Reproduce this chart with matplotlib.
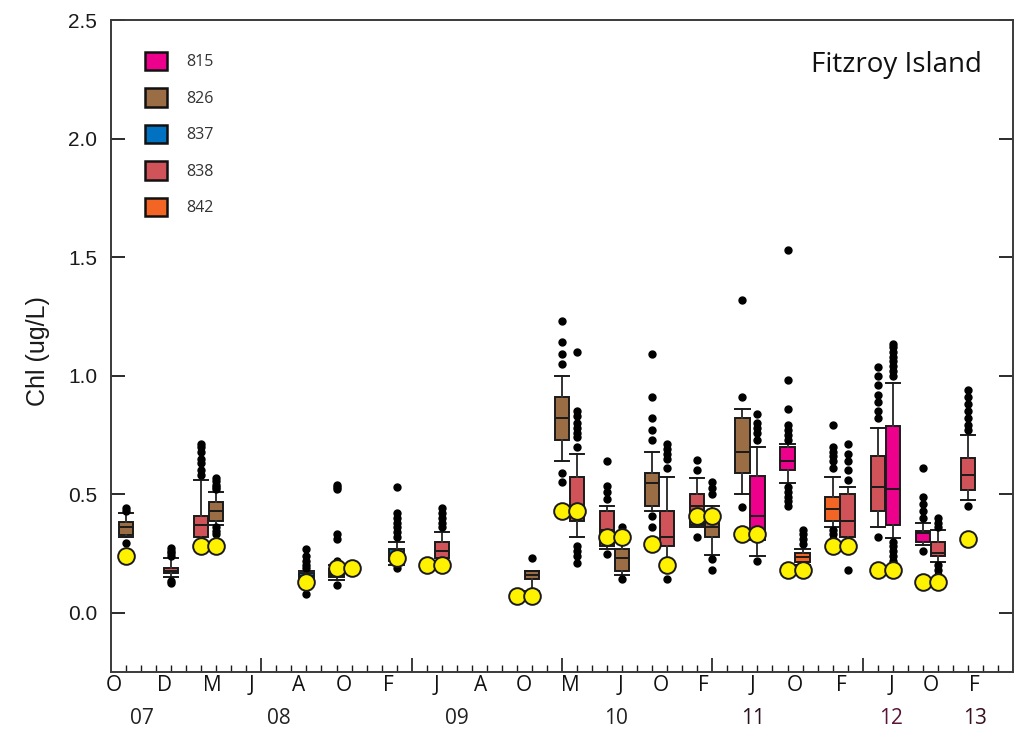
import matplotlib
matplotlib.use("Agg")
import matplotlib.pyplot as plt
from matplotlib.patches import Patch

# ---- data -----------------------------------------------------------------
station_colors = {
    "815": "#EC008C",
    "826": "#9A6D45",
    "837": "#0072C1",
    "838": "#D0535A",
    "842": "#F26524",
}
legend_stations = ["815", "826", "837", "838", "842"]

box_pos = [1, 4, 6, 7, 13, 15, 19, 22, 28, 30, 31, 33, 34, 36, 37, 39, 40,
           42, 43, 45, 46, 48, 49, 51, 52, 54, 55, 57]
box_station = ["826", "838", "838", "826", "837", "837", "837", "838", "826",
               "826", "838", "838", "826", "826", "838", "838", "826", "826",
               "815", "815", "842", "842", "838", "838", "815", "815", "838",
               "838"]
whis_lo = [0.318, 0.150, 0.280, 0.371, 0.120, 0.140, 0.200, 0.210, 0.090,
           0.640, 0.318, 0.270, 0.160, 0.430, 0.200, 0.360, 0.245, 0.500,
           0.238, 0.547, 0.200, 0.360, 0.270, 0.360, 0.315, 0.285, 0.212,
           0.477]
q1 = [0.329, 0.168, 0.318, 0.388, 0.142, 0.152, 0.220, 0.230, 0.142, 0.729,
      0.388, 0.283, 0.177, 0.450, 0.280, 0.370, 0.318, 0.590, 0.307, 0.600,
      0.212, 0.388, 0.318, 0.430, 0.371, 0.300, 0.238, 0.519]
median = [0.360, 0.178, 0.370, 0.430, 0.155, 0.160, 0.245, 0.260, 0.160,
          0.820, 0.450, 0.350, 0.230, 0.546, 0.320, 0.450, 0.360, 0.680,
          0.410, 0.640, 0.233, 0.437, 0.388, 0.530, 0.520, 0.335, 0.254,
          0.582]
q3 = [0.381, 0.187, 0.409, 0.468, 0.166, 0.185, 0.270, 0.300, 0.177, 0.908,
      0.571, 0.430, 0.269, 0.588, 0.427, 0.500, 0.405, 0.820, 0.578, 0.700,
      0.250, 0.487, 0.500, 0.660, 0.786, 0.346, 0.300, 0.651]
whis_hi = [0.419, 0.230, 0.560, 0.508, 0.177, 0.200, 0.300, 0.339, 0.177,
           1.000, 0.670, 0.450, 0.310, 0.680, 0.571, 0.568, 0.450, 0.860,
           0.700, 0.710, 0.269, 0.574, 0.530, 0.778, 0.970, 0.378, 0.350,
           0.750]
outliers = [
    [0.44, 0.43, 0.295],
    [0.275, 0.26, 0.25, 0.24, 0.135, 0.125],
    [0.71, 0.70, 0.68, 0.65, 0.63, 0.60, 0.58],
    [0.57, 0.555, 0.54, 0.53, 0.52, 0.36, 0.345, 0.33],
    [0.27, 0.24, 0.22, 0.20, 0.19, 0.107, 0.08],
    [0.54, 0.53, 0.52, 0.33, 0.31, 0.22, 0.118],
    [0.53, 0.42, 0.40, 0.38, 0.36, 0.34, 0.32, 0.19],
    [0.44, 0.42, 0.40, 0.38, 0.36],
    [0.23],
    [1.23, 1.14, 1.09, 1.05, 0.59, 0.55],
    [1.10, 0.85, 0.83, 0.80, 0.78, 0.76, 0.74, 0.70, 0.28, 0.26, 0.24, 0.21],
    [0.64, 0.535, 0.51, 0.48, 0.248],
    [0.36, 0.142],
    [1.09, 0.91, 0.82, 0.77, 0.73, 0.41, 0.36],
    [0.71, 0.69, 0.67, 0.65, 0.61, 0.142],
    [0.644, 0.60, 0.32],
    [0.55, 0.525, 0.50, 0.226, 0.18],
    [1.32, 0.91, 0.447],
    [0.84, 0.80, 0.78, 0.76, 0.73, 0.217],
    [1.53, 0.98, 0.86, 0.79, 0.77, 0.75, 0.73, 0.53, 0.51, 0.49, 0.47, 0.45],
    [0.35, 0.33, 0.31, 0.29],
    [0.79, 0.70, 0.68, 0.66, 0.64, 0.61, 0.35, 0.33, 0.31],
    [0.71, 0.67, 0.64, 0.60, 0.56, 0.18],
    [1.035, 1.00, 0.96, 0.92, 0.89, 0.85, 0.82, 0.318],
    [1.135, 1.12, 1.10, 1.08, 1.06, 1.04, 1.02, 1.00, 0.30, 0.28, 0.26,
     0.24, 0.22, 0.21],
    [0.61, 0.49, 0.46, 0.43, 0.40, 0.26],
    [0.40, 0.38, 0.36, 0.20, 0.18, 0.16],
    [0.94, 0.91, 0.88, 0.85, 0.82, 0.79, 0.77, 0.45],
]

# single reference samples (yellow markers)
sample_x = [1, 6, 7, 13, 15, 16, 19, 21, 22, 27, 28, 30, 31, 33, 34, 36, 37,
            39, 40, 42, 43, 45, 46, 48, 49, 51, 52, 54, 55, 57]
sample_chl = [0.24, 0.28, 0.28, 0.13, 0.19, 0.19, 0.23, 0.20, 0.20, 0.07,
              0.07, 0.43, 0.43, 0.32, 0.32, 0.29, 0.20, 0.41, 0.41, 0.33,
              0.33, 0.18, 0.18, 0.28, 0.28, 0.18, 0.18, 0.13, 0.13, 0.31]

month_labels = ["O", "D", "M", "J", "A", "O", "F", "J", "A", "O", "M", "J",
                "O", "F", "J", "O", "F", "J", "O", "F"]
month_pos = [0.22, 3.54, 6.73, 9.32, 12.5, 15.49, 18.48, 21.67, 24.59, 27.45,
             30.54, 33.86, 36.6, 39.4, 42.7, 45.5, 48.6, 51.9, 54.55, 57.4]
year_labels = ["07", "08", "09", "10", "11", "12", "13"]
year_pos = [2.08, 11.2, 23.0, 33.6, 42.7, 51.9, 57.5]
year_colors = ["#222222", "#222222", "#222222", "#222222", "#2a1020",
               "#5a1438", "#3a1020"]

# ---- figure -----------------------------------------------------------------
fig = plt.figure(figsize=(10.17, 7.29), dpi=100)
ax = fig.add_axes([111 / 1017, 57 / 729, 902 / 1017, 652 / 729])

stats = []
for i in range(len(box_pos)):
    stats.append(dict(whislo=whis_lo[i], q1=q1[i], med=median[i], q3=q3[i],
                      whishi=whis_hi[i], fliers=outliers[i]))

art = ax.bxp(stats, positions=box_pos, widths=0.95, capwidths=0.95,
             patch_artist=True, manage_ticks=False,
             boxprops=dict(edgecolor="#1a1a1a", linewidth=1.4),
             medianprops=dict(color="#1a1a1a", linewidth=1.4),
             whiskerprops=dict(color="#333333", linewidth=1.4),
             capprops=dict(color="#1a1a1a", linewidth=1.4),
             flierprops=dict(marker="o", markersize=5.0, markerfacecolor="black",
                             markeredgecolor="black", linestyle="none"))
for patch, st in zip(art["boxes"], box_station):
    patch.set_facecolor(station_colors[st])

ax.scatter(sample_x, sample_chl, s=12.0 ** 2, c="#FFF200",
           edgecolors="#1a1a1a", linewidths=1.4, zorder=6)

# axes limits and ticks
ax.set_xlim(0, 60)
ax.set_ylim(-0.25, 2.5)
ax.set_yticks([0.0, 0.5, 1.0, 1.5, 2.0, 2.5])
ax.set_yticklabels(["%.1f" % v for v in [0.0, 0.5, 1.0, 1.5, 2.0, 2.5]],
                   family="Liberation Sans")
ax.tick_params(axis="y", direction="in", length=10, width=1.3, right=True,
               labelsize=15, pad=10, colors="#1a1a1a")

ax.set_xticks([10, 20, 30, 40, 50])
ax.set_xticks([k for k in range(1, 60) if k % 10 != 0], minor=True)
ax.tick_params(axis="x", which="major", direction="in", length=10, width=1.2,
               labelbottom=False, colors="#1a1a1a")
ax.tick_params(axis="x", which="minor", direction="in", length=5, width=1.0,
               colors="#1a1a1a")

for sp in ax.spines.values():
    sp.set_linewidth(1.4)
    sp.set_color("#3a3a3a")

xtrans = ax.get_xaxis_transform()
for lab, x in zip(month_labels, month_pos):
    ax.text(x, -0.021, lab, transform=xtrans, ha="center", va="center",
            fontsize=15, family="Open Sans", color="#111111")
for lab, x, c in zip(year_labels, year_pos, year_colors):
    ax.text(x, -0.0706, lab, transform=xtrans, ha="center", va="center",
            fontsize=15, family="Open Sans", color=c)

fig.text(38 / 1017, 1 - 351 / 729, "Chl (ug/L)", rotation=90, ha="center",
         va="center", fontsize=18, family="Liberation Sans", color="#1a1a1a")

ax.text(0.9657, 0.931, "Fitzroy Island", transform=ax.transAxes, ha="right",
        va="center", fontsize=20, family="Open Sans", color="#111111")

handles = [Patch(facecolor=station_colors[s], edgecolor="#111111",
                 linewidth=1.8, label=s) for s in legend_stations]
leg = ax.legend(handles=handles, loc="upper left",
                bbox_to_anchor=(0.0377, 0.951), frameon=False,
                handlelength=1.4, handleheight=1.4,
                labelspacing=1.12, handletextpad=1.2, borderpad=0,
                borderaxespad=0, prop=dict(family="Open Sans", size=11.5))
for t in leg.get_texts():
    t.set_color("#333333")

fig.savefig("out.png", dpi=100)
